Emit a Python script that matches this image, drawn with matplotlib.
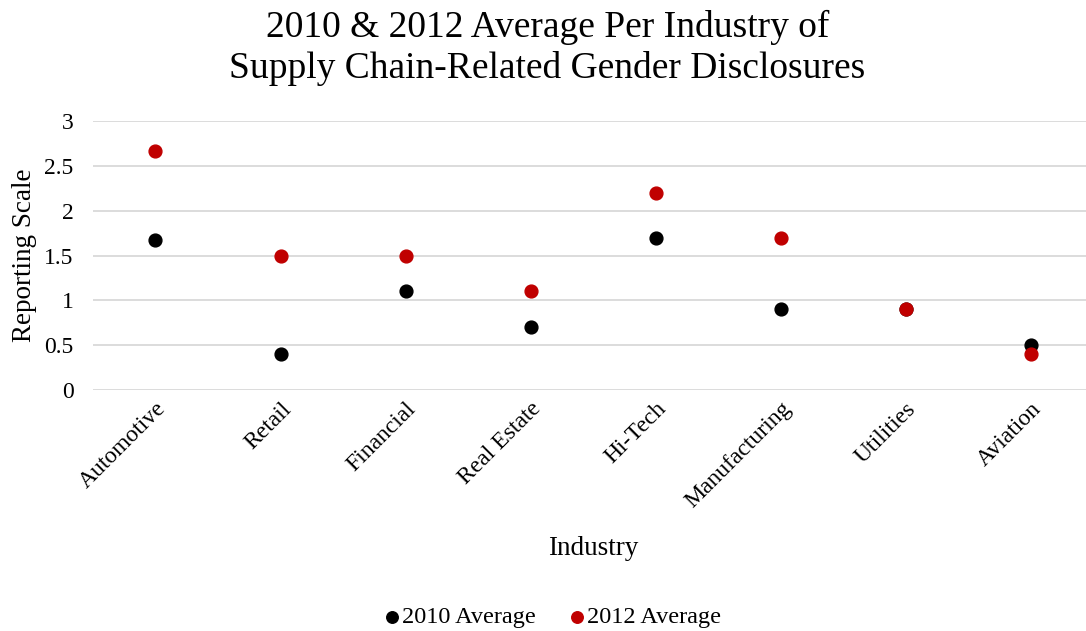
import numpy as np
import matplotlib.pyplot as plt

# Average disclosure score per industry
industries = ["Automotive", "Retail", "Financial", "Real Estate",
              "Hi-Tech", "Manufacturing", "Utilities", "Aviation"]
avg_2010 = [1.67, 0.4, 1.1, 0.7, 1.7, 0.9, 0.9, 0.5]
avg_2012 = [2.67, 1.5, 1.5, 1.1, 2.2, 1.7, 0.9, 0.4]
yticks = [0, 0.5, 1, 1.5, 2, 2.5, 3]

plt.rcParams["font.family"] = ["Liberation Serif", "DejaVu Serif"]

fig = plt.figure(figsize=(10.86, 6.31), dpi=100)
ax = fig.add_axes([0.0856, 0.382, 0.921, 0.426])

x = np.arange(len(industries))
ax.scatter(x, avg_2010, s=85, color="#000000", label="2010 Average",
           zorder=3, clip_on=False)
ax.scatter(x, avg_2012, s=85, color="#c00000", label="2012 Average",
           zorder=3, clip_on=False)

ax.set_xlim(-0.5, len(industries) - 0.5)
ax.set_ylim(0, 3)
ax.set_yticks(yticks)
ax.set_yticklabels([f"{v:g}" for v in yticks], fontsize=17)
ax.set_xticks(x)
ax.set_xticklabels(industries, rotation=45, ha="right",
                   rotation_mode="anchor", fontsize=17)
ax.tick_params(axis="y", length=0, pad=14)
ax.tick_params(axis="x", length=0, pad=6)

ax.grid(axis="y", color="#d9d9d9", linewidth=1.3)
ax.set_axisbelow(True)
for side in ax.spines.values():
    side.set_visible(False)

ax.set_ylabel("Reporting Scale", fontsize=19.5, labelpad=5)
fig.text(0.546, 0.12, "Industry", ha="center", fontsize=19.5)
fig.suptitle("2010 & 2012 Average Per Industry of\nSupply Chain-Related Gender Disclosures",
             x=0.504, y=0.985, fontsize=27, linespacing=1.25)

fig.legend(loc="center", bbox_to_anchor=(0.507, 0.022), ncol=2, frameon=False,
           fontsize=17.5, handlelength=1.0, handletextpad=-0.1,
           columnspacing=1.2, markerscale=0.9)

fig.savefig("out.png", dpi=100)
